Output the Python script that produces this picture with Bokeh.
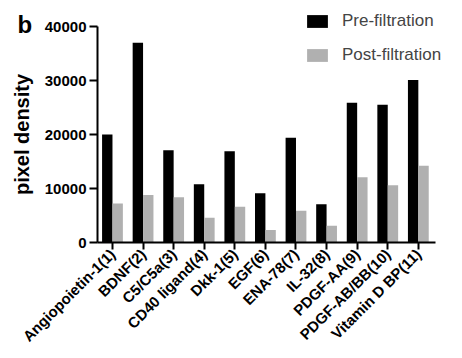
import math
from bokeh.plotting import figure
from bokeh.models import Legend, LegendItem, Label, FixedTicker, ColumnDataSource
from bokeh.embed import file_html
from bokeh.resources import INLINE

categories = ["Angiopoietin-1(1)", "BDNF(2)", "C5/C5a(3)", "CD40 ligand(4)", "Dkk-1(5)",
              "EGF(6)", "ENA-78(7)", "IL-32(8)", "PDGF-AA(9)", "PDGF-AB/BB(10)", "Vitamin D BP(11)"]
pre_filtration = [20000, 37000, 17100, 10800, 16900, 9100, 19400, 7100, 25900, 25500, 30100]
post_filtration = [7200, 8800, 8400, 4600, 6600, 2300, 5900, 3100, 12100, 10600, 14200]
y_ticks = [0, 10000, 20000, 30000, 40000]

xs = list(range(len(categories)))
src = ColumnDataSource(dict(
    x_pre=[i - 0.17 for i in xs],
    x_post=[i + 0.17 for i in xs],
    pre=pre_filtration,
    post=post_filtration,
))

FONT = "Liberation Sans"
BLACK = "#000000"
GREY = "#b0b0b0"
X0, X1 = -0.49, 10.56

p = figure(width=462, height=358, output_backend="svg", toolbar_location=None,
           x_range=(-3.661, 11.444), y_range=(-21481, 44815),
           min_border_left=0, min_border_right=0, min_border_top=0, min_border_bottom=0)
p.frame_width = 462
p.frame_height = 358

r1 = p.vbar(x="x_pre", top="pre", width=0.34, source=src, fill_color=BLACK, line_color=None)
r2 = p.vbar(x="x_post", top="post", width=0.34, source=src, fill_color=GREY, line_color=None)

p.xgrid.visible = False
p.ygrid.visible = False
p.outline_line_color = None
p.background_fill_color = "white"
p.border_fill_color = "white"

# x axis (drawn at y = 0)
p.xaxis.fixed_location = 0
p.xaxis.ticker = FixedTicker(ticks=xs)
p.xaxis.bounds = (X0, X1)
p.xaxis.major_label_overrides = {i: c for i, c in enumerate(categories)}
p.xaxis.major_label_orientation = math.pi / 4
p.xaxis.major_label_text_font = FONT
p.xaxis.major_label_text_font_style = "bold"
p.xaxis.major_label_text_font_size = "15px"
p.xaxis.major_label_text_color = "black"
p.xaxis.major_tick_line_width = 2
p.xaxis.major_tick_out = 7
p.xaxis.major_tick_in = 0
p.xaxis.minor_tick_line_color = None
p.xaxis.axis_line_width = 2
p.xaxis.axis_line_color = "black"
p.xaxis.major_label_standoff = 2

# y axis (drawn at the left end of the x axis)
p.yaxis.fixed_location = X0
p.yaxis.ticker = FixedTicker(ticks=y_ticks)
p.yaxis.bounds = (0, 40000)
p.yaxis.major_label_text_font = FONT
p.yaxis.major_label_text_font_style = "bold"
p.yaxis.major_label_text_font_size = "15px"
p.yaxis.major_label_text_color = "black"
p.yaxis.major_tick_line_width = 2
p.yaxis.major_tick_out = 8
p.yaxis.major_tick_in = 0
p.yaxis.minor_tick_line_color = None
p.yaxis.axis_line_width = 2
p.yaxis.axis_line_color = "black"
p.yaxis.major_label_standoff = 3
p.yaxis.axis_label = "pixel density"
p.yaxis.axis_label_text_font = FONT
p.yaxis.axis_label_text_font_style = "bold"
p.yaxis.axis_label_text_font_size = "20px"
p.yaxis.axis_label_text_color = "black"
p.yaxis.axis_label_standoff = 9

legend = Legend(items=[LegendItem(label="Pre-filtration", renderers=[r1]),
                       LegendItem(label="Post-filtration", renderers=[r2])],
                location=(304, 293), padding=0, margin=0, spacing=14,
                glyph_width=26, glyph_height=16, label_height=16, label_standoff=12,
                label_text_font=FONT, label_text_font_size="17px",
                border_line_color=None, background_fill_alpha=0)
p.add_layout(legend, "center")

lbl = Label(x=-3.105, y=40370, text="b",
            text_font=FONT, text_font_style="bold", text_font_size="24px",
            text_baseline="alphabetic", text_color="black")
p.add_layout(lbl)

open("out.html", "w").write(file_html(p, INLINE))
